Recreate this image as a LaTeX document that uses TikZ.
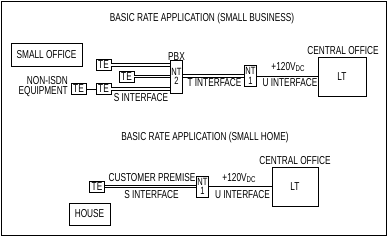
\documentclass[tikz,border=0pt]{standalone}
\usepackage{fontspec}
\setmainfont{Liberation Sans}[FakeStretch=0.72]
\newcommand{\vdc}{+120V\raisebox{-1.5pt}{\fontsize{8.5}{8.5}\selectfont DC}}
\begin{document}
\begin{tikzpicture}[x=1pt,y=-1pt,
  every node/.style={font=\fontsize{11.5}{10}\selectfont, inner sep=0pt},
  lbl/.style={},
  tebox/.style={draw, line width=0.9pt, minimum width=15pt, minimum height=11pt},
  ntbox/.style={draw, line width=0.9pt, minimum width=12pt, minimum height=21pt, align=center,
    font=\fontsize{10.5}{9.5}\selectfont},
  bigbox/.style={draw, line width=0.9pt},
  dbl/.style={double, double distance=1.8pt, line width=0.9pt},
  sgl/.style={line width=0.9pt}]
\useasboundingbox (0,0) rectangle (388,237);
\draw[line width=1pt] (1.5,1.5) rectangle (386.5,235.5);

% ---------- small business ----------
\node[lbl] (title1) at (202,19) {BASIC RATE APPLICATION (SMALL BUSINESS)};
\node[bigbox, minimum width=71pt, minimum height=23pt] (office) at (46.5,54.5) {SMALL OFFICE};
\node[lbl, align=right, anchor=east] (noniso) at (68,86.5) {NON-ISDN\\EQUIPMENT};

\node[tebox] (te1) at (103.5,65) {TE};
\node[tebox] (te2) at (126.5,76.5) {TE};
\node[tebox] (te3) at (103.5,89) {TE};
\node[tebox] (te0) at (78.5,89) {TE};
\node[ntbox, minimum height=33pt] (nt2) at (176.5,76.5) {NT\\2};
\node[lbl, anchor=south] (pbx) at (nt2.north) [yshift=-1.5pt] {PBX};
\node[lbl] (sint1) at (141,98) {S INTERFACE};

\node[ntbox] (nt1a) at (250.5,76) {NT\\1};
\node[lbl] (tint) at (214.5,82.5) {T INTERFACE};
\node[bigbox, minimum width=48pt, minimum height=39pt] (lt1) at (342,76.5) {LT};
\node[lbl] (co1) at (343,51) {CENTRAL OFFICE};
\node[lbl] (v1) at (288,67) {\vdc};
\node[lbl] (uint1) at (290,82.5) {U INTERFACE};

\draw[dbl] (te1.east) -- (te1.east -| nt2.west);
\draw[dbl] (te2.east) -- (te2.east -| nt2.west);
\draw[dbl] (te3.east) -- (te3.east -| nt2.west);
\draw[sgl] (te0.east) -- (te3.west);
\draw[dbl] (nt2.east |- nt1a.west) -- (nt1a.west);
\draw[sgl] (nt1a.east) -- (nt1a.east -| lt1.west);

% ---------- small home ----------
\node[lbl] (title2) at (205,138) {BASIC RATE APPLICATION (SMALL HOME)};
\node[tebox] (te4) at (97,186.5) {TE};
\node[bigbox, minimum width=41pt, minimum height=22pt] (house) at (89.5,214) {HOUSE};
\node[lbl] (cp) at (152,178) {CUSTOMER PREMISE};
\node[lbl] (sint2) at (151.5,195) {S INTERFACE};
\node[ntbox] (nt1b) at (202.5,186.5) {NT\\1};
\node[bigbox, minimum width=46pt, minimum height=39pt] (lt2) at (295,186.5) {LT};
\node[lbl] (co2) at (295,161) {CENTRAL OFFICE};
\node[lbl] (v2) at (239,178) {\vdc};
\node[lbl] (uint2) at (242.5,194.5) {U INTERFACE};

\draw[dbl] (te4.east) -- (nt1b.west);
\draw[sgl] (nt1b.east) -- (lt2.west);
\end{tikzpicture}
\end{document}
